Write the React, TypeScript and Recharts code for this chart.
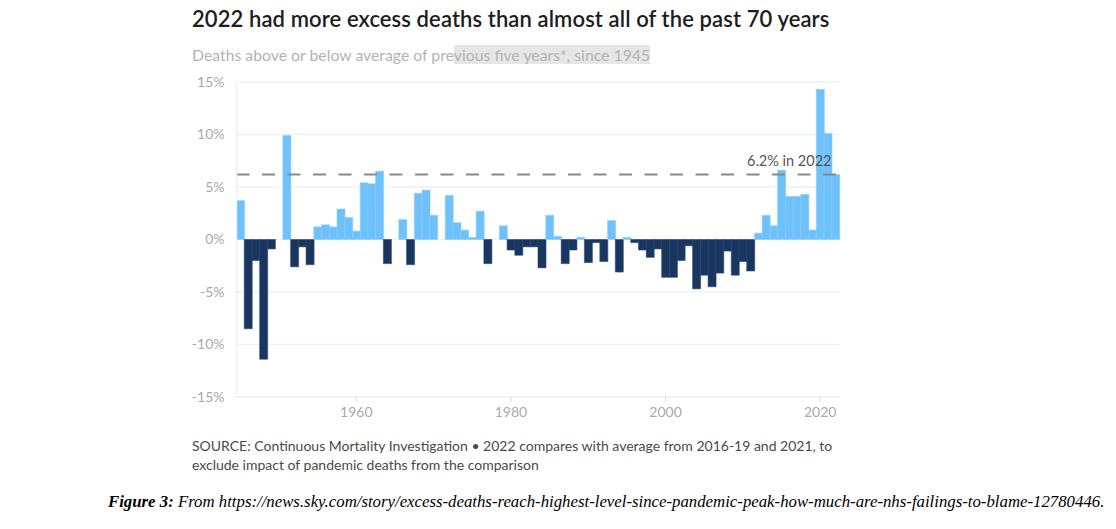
import React from 'react';
import { BarChart, Bar, XAxis, YAxis, CartesianGrid, Cell, ReferenceLine } from 'recharts';

document.body.style.margin = '0';

const years = [
  1945, 1946, 1947, 1948, 1949, 1950, 1951, 1952, 1953, 1954,
  1955, 1956, 1957, 1958, 1959, 1960, 1961, 1962, 1963, 1964,
  1965, 1966, 1967, 1968, 1969, 1970, 1971, 1972, 1973, 1974,
  1975, 1976, 1977, 1978, 1979, 1980, 1981, 1982, 1983, 1984,
  1985, 1986, 1987, 1988, 1989, 1990, 1991, 1992, 1993, 1994,
  1995, 1996, 1997, 1998, 1999, 2000, 2001, 2002, 2003, 2004,
  2005, 2006, 2007, 2008, 2009, 2010, 2011, 2012, 2013, 2014,
  2015, 2016, 2017, 2018, 2019, 2020, 2021, 2022,
];

// % above/below the average of the previous five years
const excess = [
  3.7, -8.5, -2.0, -11.4, -0.9, 0, 9.9, -2.6, -0.7, -2.4,
  1.2, 1.4, 1.2, 2.9, 2.1, 0.8, 5.4, 5.3, 6.5, -2.3,
  0, 1.9, -2.4, 4.4, 4.7, 2.3, 0, 4.2, 1.6, 0.9,
  0.2, 2.7, -2.3, 0, 1.3, -1.0, -1.5, -0.7, -0.7, -2.7,
  2.3, 0.3, -2.3, -1.0, 0.2, -2.2, -0.3, -2.1, 1.8, -3.1,
  0.2, -0.3, -1.0, -1.7, -0.9, -3.6, -3.6, -2.0, -0.6, -4.7,
  -3.4, -4.5, -3.2, -1.1, -3.4, -2.1, -3.0, 0.6, 2.3, 1.3,
  6.6, 4.1, 4.1, 4.3, 0.9, 14.3, 10.1, 6.2,
];

const yTicks = [-15, -10, -5, 0, 5, 10, 15];
const xTicks = [1960, 1980, 2000, 2020];
const latest = 6.2;

const data = years.map((year, i) => ({ year, value: excess[i] }));

const POS = '#6ec1fa';
const NEG = '#18365f';
const GRID = '#eef1f4';
const MUTED = '#a9a9a9';
const FONT = 'Lato, "Noto Sans", sans-serif';

export default function App() {
  return (
    <div style={{ position: 'relative', width: 1116, height: 529, background: '#fff', fontFamily: FONT, overflow: 'hidden' }}>
      <div style={{ position: 'absolute', left: 192, top: 5, fontSize: 22, fontWeight: 600, color: '#1d1d1d', whiteSpace: 'nowrap', letterSpacing: 0.1 }}>
        2022 had more excess deaths than almost all of the past 70 years
      </div>
      <div style={{ position: 'absolute', left: 192, top: 44, fontSize: 15.8, color: '#b3b3b3', whiteSpace: 'nowrap', lineHeight: '22px' }}>
        Deaths above or below average of pre
        <span style={{ background: '#e6e6e6' }}>vious five years*, since 1945</span>
      </div>

      <div style={{ position: 'absolute', left: 0, top: 0 }}>
        <BarChart
          width={1116}
          height={529}
          data={data}
          barCategoryGap={0}
          margin={{ top: 82, right: 276.5, bottom: 102, left: 192.5 }}
        >
          <CartesianGrid vertical={false} stroke={GRID} strokeWidth={1.5} />
          <XAxis
            dataKey="year"
            ticks={xTicks}
            interval={0}
            height={30}
            axisLine={{ stroke: GRID, strokeWidth: 1.5 }}
            tickLine={{ stroke: '#dcdcdc' }}
            tickSize={5}
            tickMargin={5}
            tick={{ fontSize: 14, fill: MUTED, fontFamily: FONT }}
          />
          <YAxis
            domain={[-15, 15]}
            ticks={yTicks}
            width={44}
            axisLine={{ stroke: GRID, strokeWidth: 1.5 }}
            tickLine={false}
            tickMargin={6}
            tickFormatter={(v) => `${v}%`}
            tick={{ fontSize: 14, fill: MUTED, fontFamily: FONT }}
          />
          <Bar dataKey="value" isAnimationActive={false}>
            {data.map((d, i) => (
              <Cell
                key={`cell-${i}`}
                fill={d.value >= 0 ? POS : NEG}
                stroke={d.value >= 0 ? '#8ccff9' : '#2c4872'}
                strokeWidth={0.6}
              />
            ))}
          </Bar>
          <ReferenceLine
            y={latest}
            stroke="#8a8a8a"
            strokeWidth={2}
            strokeDasharray="13 12.5"
            label={{ value: '6.2% in 2022', position: 'insideBottomRight', offset: 8, fill: '#555', fontSize: 14.5, fontFamily: FONT }}
          />
        </BarChart>
      </div>

      <div style={{ position: 'absolute', left: 192, top: 436, fontSize: 14, color: '#4a4a4a', lineHeight: '19px', whiteSpace: 'nowrap' }}>
        SOURCE: Continuous Mortality Investigation • 2022 compares with average from 2016-19 and 2021, to
        <br />
        exclude impact of pandemic deaths from the comparison
      </div>

      <div style={{ position: 'absolute', left: 108, top: 494, fontSize: 16.8, fontFamily: '"Liberation Serif", "Times New Roman", serif', fontStyle: 'italic', color: '#000', whiteSpace: 'nowrap', lineHeight: 1 }}>
        <b>Figure 3:</b> From https://news.sky.com/story/excess-deaths-reach-highest-level-since-pandemic-peak-how-much-are-nhs-failings-to-blame-12780446.
      </div>
    </div>
  );
}
